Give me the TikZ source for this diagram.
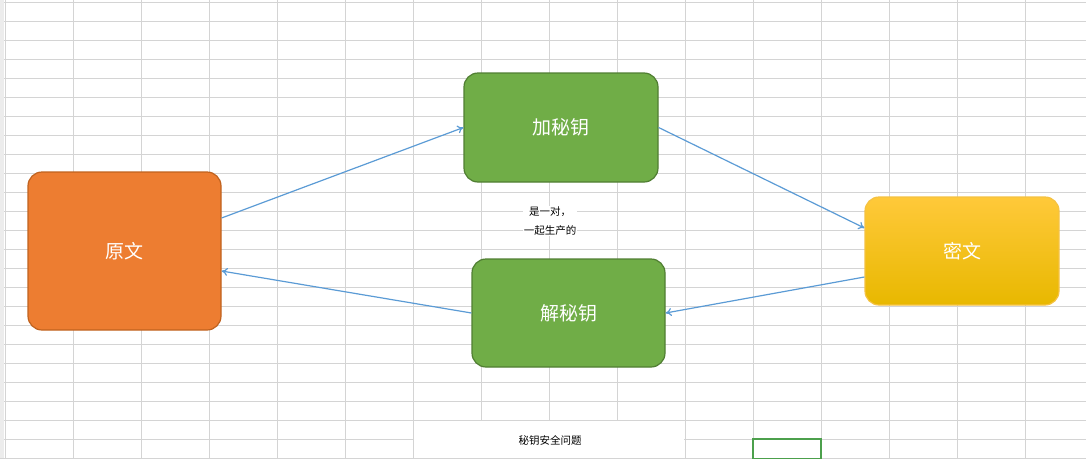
\documentclass[tikz,border=0pt]{standalone}
\usepackage{fontspec}
\setmainfont{Noto Sans CJK SC}
\usetikzlibrary{arrows.meta}
\definecolor{gridc}{HTML}{D4D4D4}
\definecolor{orangef}{HTML}{ED7D31}
\definecolor{oranged}{HTML}{C0621E}
\definecolor{greenf}{HTML}{70AD47}
\definecolor{greend}{HTML}{507E32}
\definecolor{yellowt}{HTML}{FFC93A}
\definecolor{yellowb}{HTML}{E8B800}
\definecolor{yellowd}{HTML}{F5C242}
\definecolor{arrowc}{HTML}{5B9BD5}
\definecolor{selc}{HTML}{4CA04C}
\tikzset{box/.style={rounded corners=14pt, line width=1.2pt, text=white, font=\fontsize{19}{22}\selectfont, inner sep=0pt}}
\tikzset{link/.style={color=arrowc, line width=1.2pt, -{To[length=6pt,width=8pt]}}}
\tikzset{note/.style={font=\fontsize{10.5}{19}\selectfont, fill=white, inner sep=1pt, align=center}}

\begin{document}
\begin{tikzpicture}[x=1pt, y=-1pt]
  \useasboundingbox (0,0) rectangle (1086,458);
  % sheet grid
  \foreach \x in {5,73,...,1093} {
    \draw[gridc, line width=.8pt] (\x,0) -- (\x,458);
  }
  \foreach \y in {2,21,...,458} {
    \draw[gridc, line width=.8pt] (0,\y) -- (1086,\y);
  }
  \fill[gray!15] (0,0) rectangle (4,458);
  \fill[white] (414,421) rectangle (684,458);
  \draw[selc, line width=2pt] (753,439) rectangle (821,459);

  \node[box, draw=oranged, fill=orangef, minimum width=193pt, minimum height=158pt] (plain) at (124.5,251) {原文};
  \node[box, draw=greend, fill=greenf, minimum width=194pt, minimum height=109pt] (enc) at (561,127.5) {加秘钥};
  \node[box, draw=greend, fill=greenf, minimum width=193pt, minimum height=108pt] (dec) at (568.5,313) {解秘钥};
  \node[box, draw=yellowd, top color=yellowt, bottom color=yellowb, minimum width=194pt, minimum height=108pt] (cipher) at (962,251) {密文};

  \node[note] (pair) at (550,221) {是一对，\\一起生产的};
  \node[font=\fontsize{10.5}{12}\selectfont] (safe) at (550,440) {秘钥安全问题};

  \draw[link] ([yshift=33pt]plain.east) -- (enc.west);
  \draw[link] (enc.east) -- ([yshift=23pt]cipher.west);
  \draw[link] ([yshift=-26pt]cipher.west) -- (dec.east);
  \draw[link] (dec.west) -- ([yshift=-20pt]plain.east);
\end{tikzpicture}
\end{document}
